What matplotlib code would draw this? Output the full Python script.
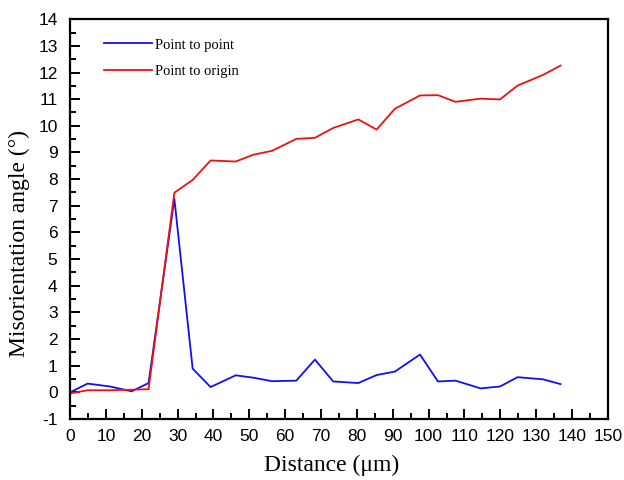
import matplotlib
matplotlib.use('Agg')
import matplotlib.pyplot as plt
from matplotlib.ticker import MultipleLocator

plt.rcParams['axes.unicode_minus'] = False

# distance (um) and misorientation angles (deg)
distance = [0, 4.9, 11.2, 17.2, 21.9, 29.1, 34.2, 39.2, 46.2, 51.2, 56.3, 63.1, 68.3,
            73.4, 80.4, 85.5, 90.6, 97.6, 102.6, 107.5, 114.5, 119.9, 124.8, 131.9, 136.8]
point_to_point = [0.0, 0.33, 0.22, 0.04, 0.35, 7.26, 0.89, 0.2, 0.64, 0.55, 0.42, 0.44, 1.23,
                  0.41, 0.35, 0.65, 0.78, 1.42, 0.41, 0.44, 0.15, 0.22, 0.57, 0.49, 0.31]
point_to_origin = [-0.04, 0.08, 0.08, 0.1, 0.12, 7.49, 7.97, 8.7, 8.66, 8.92, 9.06, 9.51, 9.55,
                   9.92, 10.24, 9.86, 10.64, 11.14, 11.15, 10.9, 11.02, 10.99, 11.51, 11.91, 12.26]

sans = ['Liberation Sans', 'DejaVu Sans']
serif = ['Liberation Serif', 'DejaVu Serif']

fig = plt.figure(figsize=(6.24, 4.8), dpi=100)
ax = fig.add_axes([0.1122, 0.127, 0.862, 0.833])

ax.plot(distance, point_to_point, color='#1010f0', lw=1.3, label='Point to point')
ax.plot(distance, point_to_origin, color='#f01010', lw=1.3, label='Point to origin')

ax.set_xlim(0, 150)
ax.set_ylim(-1, 14)
ax.xaxis.set_major_locator(MultipleLocator(10))
ax.xaxis.set_minor_locator(MultipleLocator(5))
ax.yaxis.set_major_locator(MultipleLocator(1))
ax.yaxis.set_minor_locator(MultipleLocator(0.5))
ax.tick_params(which='both', direction='in', top=False, right=False, width=1.4)
ax.tick_params(which='major', length=7)
ax.tick_params(which='minor', length=4)
ax.tick_params(axis='x', pad=7)
ax.tick_params(axis='y', pad=9)
for s in ax.spines.values():
    s.set_linewidth(1.6)
for lab in ax.get_xticklabels() + ax.get_yticklabels():
    lab.set_family(sans)
    lab.set_fontsize(12.5)

ax.set_xlabel('Distance (\u03bcm)', family=serif, fontsize=17, labelpad=8)
ax.set_ylabel('Misorientation angle (\u00b0)', family=serif, fontsize=17, labelpad=6)
ax.xaxis.label.set_x(0.487)
ax.yaxis.label.set_y(0.44)

ax.legend(loc='upper left', bbox_to_anchor=(0.038, 0.985), frameon=False,
          handlelength=3.3, handletextpad=0.2, labelspacing=0.9,
          prop={'family': serif, 'size': 10.5})

fig.savefig('out.png', dpi=100)
